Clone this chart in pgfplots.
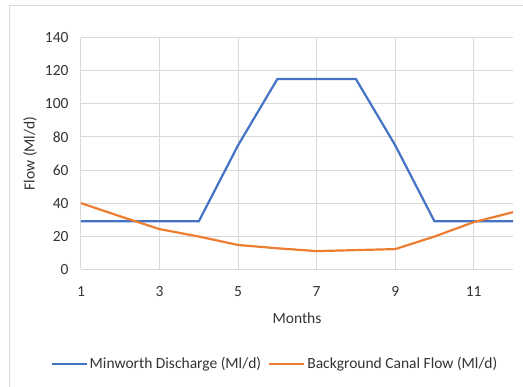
\documentclass[border=0pt]{standalone}
\usepackage{pgfplots}
\pgfplotsset{compat=1.18}
\usepackage{fontspec}
\setmainfont{Carlito}
\definecolor{blueS}{HTML}{4472C4}
\definecolor{orangeS}{HTML}{ED7D31}
\definecolor{gridc}{HTML}{D9D9D9}
\definecolor{txt}{HTML}{333333}
\begin{document}
\begin{tikzpicture}
\useasboundingbox (0pt,0pt) rectangle (523pt,387pt);
\draw[gridc, line width=1pt] (530pt,381.5pt) -- (9.5pt,381.5pt) -- (9.5pt,-10pt);
\begin{axis}[
  at={(81pt,117.7pt)}, anchor=south west,
  scale only axis, width=432pt, height=231.6pt,
  xmin=1, xmax=12, ymin=0, ymax=140,
  xtick={1,3,5,7,9,11}, ytick={0,20,...,140},
  axis x line=bottom, axis y line=left,
  axis line style={draw=gridc, line width=1pt, -},
  grid=major, major grid style={draw=gridc, line width=1pt},
  major tick length=0pt,
  tick label style={font=\fontsize{15.5}{18}\selectfont, text=txt},
  /pgf/number format/assume math mode=true,
  yticklabel style={xshift=-9pt},
  xticklabel style={yshift=-14pt},
  every axis y label/.style={at={(rel axis cs:-0.118,0.5)}, rotate=90, anchor=center, font=\fontsize{15.5}{18}\selectfont, text=txt},
  every axis x label/.style={at={(rel axis cs:0.5,-0.21)}, anchor=center, font=\fontsize{15.5}{18}\selectfont, text=txt},
  ylabel={Flow (Ml/d)}, xlabel={Months},
  legend columns=2,
  legend style={at={(rel axis cs:0.449,-0.409)}, anchor=center, draw=none, fill=none,
    font=\fontsize{15.5}{18}\selectfont, text=txt,
    /tikz/every even column/.append style={column sep=5pt}},
  legend image code/.code={\draw[#1, line width=2.2pt] (0pt,0pt) -- (35pt,0pt);},
  clip=false,
]
\addplot[blueS, line width=2.2pt] coordinates {
(1,29) (2,29) (3,29) (4,29) (5,75) (6,115) (7,115) (8,115) (9,75) (10,29) (11,29) (12,29)};
\addlegendentry{Minworth Discharge (Ml/d)}
\addplot[orangeS, line width=2.2pt] coordinates {
(1,40) (2,32) (3,24.3) (4,19.8) (5,14.7) (6,12.7) (7,11) (8,11.6) (9,12.2) (10,19.8) (11,28.5) (12,34.5)};
\addlegendentry{Background Canal Flow (Ml/d)}
\end{axis}
\end{tikzpicture}
\end{document}
